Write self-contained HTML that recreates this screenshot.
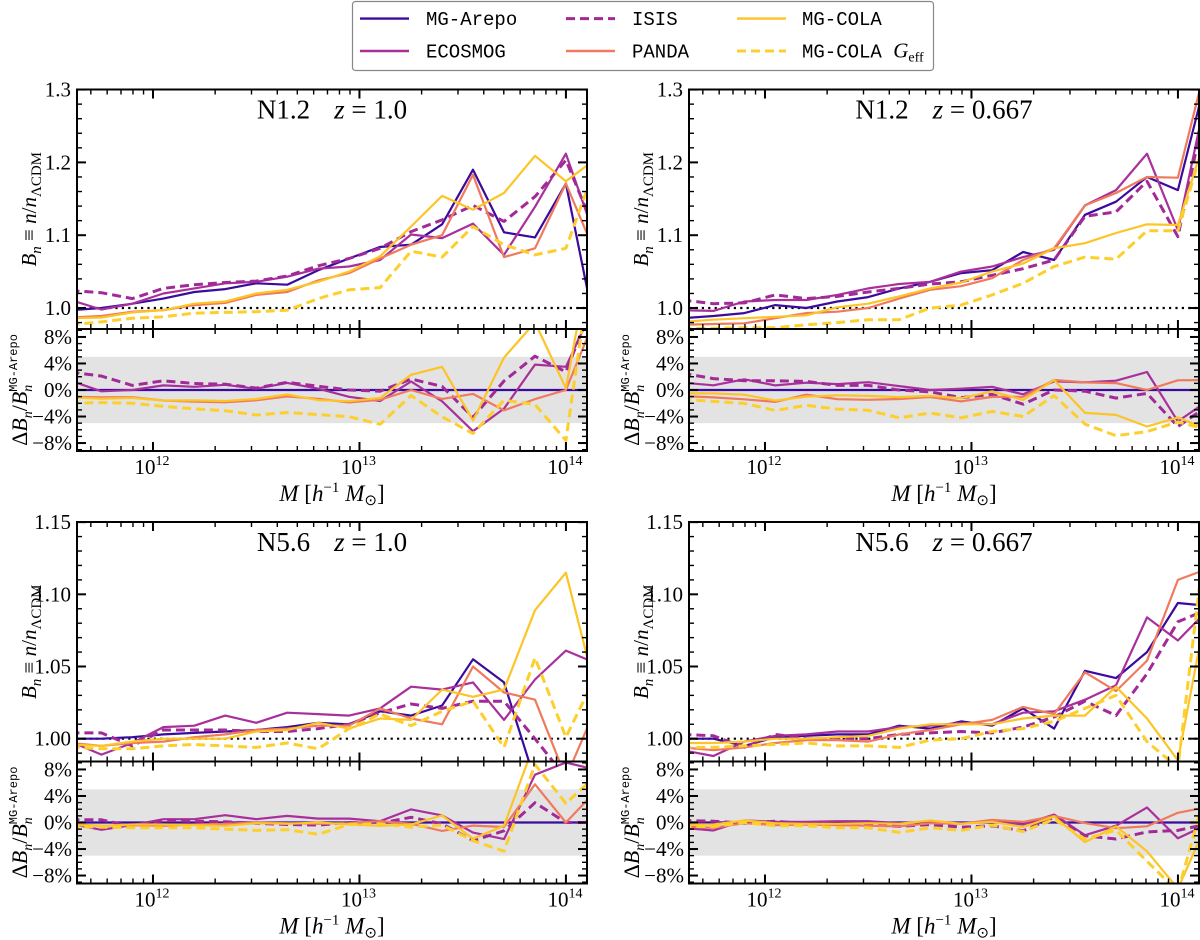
<!DOCTYPE html>
<html><head><meta charset="utf-8">
<style>
html,body{margin:0;padding:0;background:#fff;}
svg{display:block;font-family:"Liberation Serif",serif;}
</style></head>
<body>
<svg id="fig" width="1200" height="940" viewBox="0 0 1200 940" xmlns="http://www.w3.org/2000/svg">
  <g id="legend">
    <rect x="352.5" y="1.5" width="581" height="69" rx="3" fill="#fff" stroke="#888" stroke-width="1.2"/>
  </g>
</svg>
<script>
// ---- data ----
const logM = [11.60,11.75,11.90,12.05,12.20,12.35,12.50,12.65,12.80,12.95,13.10,13.25,13.40,13.55,13.70,13.85,14.00,14.15];
const seriesNames = ["MG-Arepo","ECOSMOG","ISIS","PANDA","MG-COLA","MG-COLA Geff"];
const panelTitles = ["N1.2", "N1.2", "N5.6", "N5.6"];
const panelRedshifts = ["1.0", "0.667", "1.0", "0.667"];
const topTicks = [1.0, 1.1, 1.2, 1.3];
const topTickLabels = ["1.0","1.1","1.2","1.3"];
const botTicks = [1.00, 1.05, 1.10, 1.15];
const botTickLabels = ["1.00","1.05","1.10","1.15"];
const resTicks = [-8, -4, 0, 4, 8];
const resTickLabels = ["\u22128%","\u22124%","0%","4%","8%"];
const xMajor = [12, 13, 14];
const xMajorLabels = ["12","13","14"];

// N1.2 z=1.0
const a_arepo   = [0.997,1.000,1.006,1.013,1.022,1.026,1.034,1.032,1.052,1.068,1.084,1.087,1.115,1.190,1.104,1.097,1.171,0.960];
const a_ecosmog = [1.011,0.998,1.006,1.020,1.027,1.034,1.036,1.043,1.054,1.057,1.066,1.101,1.096,1.116,1.073,1.139,1.212,1.090];
const a_isis    = [1.024,1.021,1.013,1.027,1.032,1.035,1.037,1.044,1.058,1.068,1.082,1.105,1.121,1.141,1.119,1.153,1.203,1.100];
const a_panda   = [0.987,0.989,0.995,0.997,1.004,1.007,1.018,1.022,1.038,1.048,1.068,1.087,1.100,1.183,1.070,1.082,1.171,1.070];
const a_cola    = [0.986,0.987,0.994,0.997,1.006,1.009,1.020,1.025,1.036,1.050,1.071,1.112,1.154,1.135,1.158,1.209,1.174,1.206];
const a_geff    = [0.977,0.981,0.986,0.988,0.993,0.994,0.995,0.997,1.013,1.025,1.028,1.078,1.070,1.112,1.087,1.073,1.082,1.200];
// N1.2 z=0.667
const b_arepo   = [0.986,0.989,0.993,1.004,1.000,1.009,1.015,1.027,1.036,1.048,1.052,1.077,1.066,1.128,1.146,1.180,1.162,1.330];
const b_ecosmog = [0.997,0.996,1.009,1.011,1.011,1.018,1.027,1.033,1.036,1.050,1.057,1.070,1.080,1.141,1.162,1.212,1.107,1.310];
const b_isis    = [1.011,1.006,1.007,1.018,1.013,1.016,1.022,1.027,1.033,1.036,1.045,1.054,1.066,1.126,1.132,1.174,1.098,1.300];
const b_panda   = [0.977,0.978,0.979,0.986,0.993,0.995,1.000,1.013,1.025,1.030,1.041,1.066,1.082,1.141,1.158,1.180,1.179,1.350];
const b_cola    = [0.981,0.984,0.986,0.988,0.990,1.001,1.006,1.016,1.027,1.035,1.050,1.061,1.082,1.089,1.103,1.115,1.114,1.250];
const b_geff    = [0.972,0.972,0.973,0.973,0.977,0.980,0.984,0.984,1.000,1.004,1.018,1.034,1.057,1.070,1.067,1.106,1.106,1.250];
// N5.6 z=1.0
const c_arepo   = [1.000,1.000,1.001,1.003,1.004,1.005,1.006,1.008,1.011,1.010,1.019,1.016,1.023,1.055,1.039,0.971,0.973,0.975];
const c_ecosmog = [0.998,0.989,0.997,1.008,1.009,1.016,1.011,1.018,1.017,1.016,1.021,1.036,1.034,1.039,1.013,1.041,1.061,1.052];
const c_isis    = [1.004,1.004,0.995,1.006,1.006,1.006,1.005,1.005,1.007,1.010,1.018,1.024,1.021,1.026,1.026,1.000,0.973,0.975];
const c_panda   = [0.997,0.995,0.997,0.998,1.001,1.003,1.006,1.007,1.009,1.009,1.021,1.014,1.010,1.050,1.032,1.027,0.973,1.023];
const c_cola    = [0.996,0.995,0.998,1.000,1.000,1.000,1.005,1.006,1.011,1.007,1.014,1.013,1.034,1.029,1.034,1.089,1.115,1.030];
const c_geff    = [0.994,0.993,0.993,0.995,0.996,0.995,0.994,0.997,0.993,1.007,1.017,1.009,1.019,1.026,0.994,1.056,1.001,1.045];
// N5.6 z=0.667
const d_arepo   = [1.000,1.000,0.995,1.001,1.002,1.003,1.003,1.009,1.007,1.012,1.009,1.021,1.007,1.047,1.042,1.060,1.094,1.092];
const d_ecosmog = [0.992,0.988,0.998,1.002,1.003,1.005,1.005,1.008,1.009,1.011,1.010,1.018,1.019,1.027,1.037,1.084,1.068,1.090];
const d_isis    = [1.003,1.002,0.994,1.003,1.000,1.000,1.000,1.003,1.004,1.005,1.004,1.008,1.015,1.026,1.016,1.045,1.081,1.090];
const d_panda   = [0.994,0.992,0.994,0.997,0.999,0.999,0.998,1.003,1.006,1.010,1.013,1.022,1.017,1.046,1.033,1.054,1.110,1.118];
const d_cola    = [0.997,0.997,0.998,1.000,1.000,1.001,1.002,1.007,1.010,1.010,1.010,1.014,1.016,1.016,1.036,1.014,0.985,1.098];
const d_geff    = [0.994,0.994,0.995,0.996,0.997,0.995,0.995,0.994,0.999,1.000,1.005,1.007,1.012,1.021,1.030,0.998,0.980,1.160];

// ---- styles ----
const COLORS = ["#3a0b9c","#a8309c","#a12a98","#ef7a5d","#fcc425","#fdcf2c"];
const DASHED = [false,false,true,false,false,true];
const KEYS = ["arepo","ecosmog","isis","panda","cola","geff"];

const NS = "http://www.w3.org/2000/svg";
const svg = document.getElementById("fig");
function el(tag, attrs, parent){
  const e = document.createElementNS(NS, tag);
  for (const k in attrs) e.setAttribute(k, attrs[k]);
  (parent||svg).appendChild(e);
  return e;
}

const panels = [
  {key:"a", data:[a_arepo,a_ecosmog,a_isis,a_panda,a_cola,a_geff], dx:0, dy:0, ylo:0.9712, yhi:1.3001, ticks:topTicks, labels:topTickLabels, minor:0.02},
  {key:"b", data:[b_arepo,b_ecosmog,b_isis,b_panda,b_cola,b_geff], dx:612, dy:0, ylo:0.9712, yhi:1.3001, ticks:topTicks, labels:topTickLabels, minor:0.02},
  {key:"c", data:[c_arepo,c_ecosmog,c_isis,c_panda,c_cola,c_geff], dx:0, dy:432.5, ylo:0.9842, yhi:1.1501, ticks:botTicks, labels:botTickLabels, minor:0.01},
  {key:"d", data:[d_arepo,d_ecosmog,d_isis,d_panda,d_cola,d_geff], dx:612, dy:432.5, ylo:0.9842, yhi:1.1501, ticks:botTicks, labels:botTickLabels, minor:0.01}
];

const X0 = 77, X1 = 587, LMIN = 11.632, LMAX = 14.102;
const MT = 89.5, MB = 329, RB = 451;
const RMIN = -9.2, RMAX = 9.2;

panels.forEach((p, pi) => {
  const x0 = X0 + p.dx, x1 = X1 + p.dx;
  const mt = MT + p.dy, mb = MB + p.dy, rb = RB + p.dy;
  const xs = L => x0 + (L - LMIN) / (LMAX - LMIN) * (x1 - x0);
  const ym = v => mb - (v - p.ylo) / (p.yhi - p.ylo) * (mb - mt);
  const yr = r => rb - (r - RMIN) / (RMAX - RMIN) * (rb - mb);

  const g = el("g", {});
  
  

  const defs = el("defs", {}, g);
  const cm = el("clipPath", {id:"cm"+pi}, defs);
  el("rect", {x:x0, y:mt, width:x1-x0, height:mb-mt}, cm);
  const cr = el("clipPath", {id:"cr"+pi}, defs);
  el("rect", {x:x0, y:mb, width:x1-x0, height:rb-mb}, cr);

  const band = el("rect", {x:x0, y:yr(5), width:x1-x0, height:yr(-5)-yr(5), fill:"#e3e3e3"}, g);
  
  

  const ref = el("line", {x1:x0, x2:x1, y1:ym(1), y2:ym(1), stroke:"#000", "stroke-width":2.2, "stroke-dasharray":"2.2 4.2"}, g);
  
  

  const gm = el("g", {"clip-path":"url(#cm"+pi+")"}, g);
  const gr = el("g", {"clip-path":"url(#cr"+pi+")"}, g);
  const arepo = p.data[0];
  p.data.forEach((vals, si) => {
    const pts = vals.map((v,i)=> xs(logM[i]).toFixed(1)+","+ym(v).toFixed(1)).join(" ");
    const attrs = {points:pts, fill:"none", stroke:COLORS[si], "stroke-width": DASHED[si]?3:2.2, "stroke-linejoin":"round"};
    if (DASHED[si]) attrs["stroke-dasharray"] = "9 5";
    const line = el("polyline", attrs, gm);
    
    
    const rpts = vals.map((v,i)=> xs(logM[i]).toFixed(1)+","+yr((v/arepo[i]-1)*100).toFixed(1)).join(" ");
    const rattrs = Object.assign({}, attrs, {points:rpts});
    const rline = el("polyline", rattrs, gr);
    
    
  });

  el("rect", {x:x0, y:mt, width:x1-x0, height:rb-mt, fill:"none", stroke:"#000", "stroke-width":2}, g);
  el("line", {x1:x0, x2:x1, y1:mb, y2:mb, stroke:"#000", "stroke-width":2}, g);

  const tk = el("g", {stroke:"#000", "stroke-width":1.4}, g);
  for (let d = 11; d <= 14; d++) {
    for (let m = 1; m <= 9; m++) {
      const L = d + Math.log10(m);
      if (L < LMIN || L > LMAX) continue;
      const x = xs(L);
      const len = m === 1 ? 9 : 5;
      const sw = m === 1 ? 2 : 1.4;
      [[mt, 1],[mb, -1],[mb, 1],[rb, -1]].forEach(([y, dir]) => {
        el("line", {x1:x, x2:x, y1:y, y2:y+dir*len, "stroke-width":sw}, tk);
      });
    }
  }
  for (let v = Math.ceil(p.ylo/p.minor)*p.minor; v <= p.yhi+1e-9; v += p.minor) {
    const major = p.ticks.some(t => Math.abs(t - v) < 1e-6);
    const len = major ? 9 : 5, y = ym(v);
    el("line", {x1:x0, x2:x0+len, y1:y, y2:y, "stroke-width":major?2:1.4}, tk);
    el("line", {x1:x1, x2:x1-len, y1:y, y2:y, "stroke-width":major?2:1.4}, tk);
  }
  for (let r = -9; r <= 9; r += 1) {
    const major = r % 4 === 0;
    const len = major ? 9 : 5, y = yr(r);
    el("line", {x1:x0, x2:x0+len, y1:y, y2:y, "stroke-width":major?2:1.4}, tk);
    el("line", {x1:x1, x2:x1-len, y1:y, y2:y, "stroke-width":major?2:1.4}, tk);
  }

  p.ticks.forEach((t, i) => {
    const tx = el("text", {x:x0-6, y:ym(t)+7, "text-anchor":"end", "font-size":21, fill:"#000"}, g);
    tx.textContent = p.labels[i];
    
    
  });
  resTicks.forEach((t, i) => {
    const tx = el("text", {x:x0-5, y:yr(t)+7, "text-anchor":"end", "font-size":21, fill:"#000"}, g);
    tx.textContent = resTickLabels[i];
    
    
  });
  xMajor.forEach((L, i) => {
    const x = xs(L);
    const tx = el("text", {x:x-1, y:rb+23, "text-anchor":"middle", "font-size":21, fill:"#000"}, g);
    
    
    const t1 = el("tspan", {}, tx); t1.textContent = "10";
    const t2 = el("tspan", {"font-size":14, dy:-9}, tx); t2.textContent = xMajorLabels[i];
  });
  const xl = el("text", {x:(x0+x1)/2, y:rb+50, "text-anchor":"middle", "font-size":23, fill:"#000"}, g);
  
  
  xl.innerHTML = '<tspan font-style="italic">M</tspan> [<tspan font-style="italic">h</tspan><tspan font-size="15" dy="-9">\u22121</tspan><tspan dy="9"> </tspan><tspan font-style="italic">M</tspan><tspan font-size="15" dy="4">\u2299</tspan><tspan dy="-4">]</tspan>';

  const tt = el("text", {x:(x0+x1)/2, y:mt+29, "text-anchor":"middle", "font-size":27, fill:"#000"}, g);
  
  
  tt.innerHTML = panelTitles[pi] + '<tspan dx="24" font-style="italic">z</tspan> = ' + panelRedshifts[pi];

  const cyM = (mt + mb) / 2, cyR = (mb + rb) / 2;
  const yl = el("text", {x:0, y:0, transform:"translate("+(x0-41)+","+cyM+") rotate(-90)", "text-anchor":"middle", "font-size":21, fill:"#000"}, g);
  
  
  yl.innerHTML = '<tspan font-style="italic">B</tspan><tspan font-style="italic" font-size="15" dy="5">n</tspan><tspan dy="-5"> \u2261 </tspan><tspan font-style="italic">n</tspan>/<tspan font-style="italic">n</tspan><tspan font-size="15" dy="5">\u039BCDM</tspan>';
  const rl = el("text", {x:0, y:0, transform:"translate("+(x0-50)+","+cyR+") rotate(-90)", "text-anchor":"middle", "font-size":22, fill:"#000"}, g);
  
  
  rl.innerHTML = '\u0394<tspan font-style="italic">B</tspan><tspan font-style="italic" font-size="14" dy="5">n</tspan><tspan dy="-5">/</tspan><tspan font-style="italic">B</tspan><tspan font-style="italic" font-size="14" dy="5">n</tspan><tspan font-family="Liberation Mono, monospace" font-size="12" dx="-7" dy="-15">MG-Arepo</tspan>';
});

const lg = document.getElementById("legend");
const legendCols = [[360,426],[566,632],[737,802]];
const legendRows = [18.6, 51];
const legendPos = [[0,0],[0,1],[1,0],[1,1],[2,0],[2,1]];
const legendSeries = [0,1,2,3,4,5];
legendSeries.forEach((si, i) => {
  const [c, r] = legendPos[i];
  const y = legendRows[r];
  const [lx, tx] = legendCols[c];
  const attrs = {x1:lx, x2:lx+49, y1:y, y2:y, stroke:COLORS[si], "stroke-width":DASHED[si]?3:2.4};
  if (DASHED[si]) attrs["stroke-dasharray"] = "9 5";
  const ln = el("line", attrs, lg);
  
  
  const t = el("text", {x:tx, y:y+6.5, "font-size":19, "font-family":"Liberation Mono, monospace", fill:"#000"}, lg);
  
  
  if (si === 5) {
    t.innerHTML = 'MG-COLA <tspan font-family="Liberation Serif, serif" font-style="italic" font-size="21">G</tspan><tspan font-family="Liberation Serif, serif" font-size="14" dy="4">eff</tspan>';
  } else {
    t.textContent = seriesNames[si];
  }
});
</script>
</body></html>
